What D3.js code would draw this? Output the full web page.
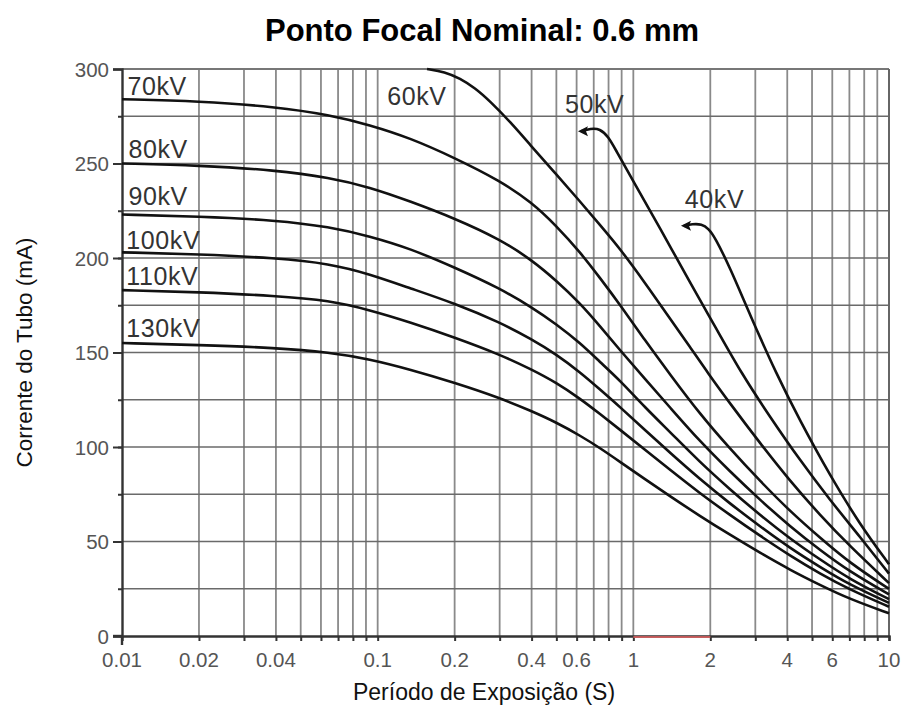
<!DOCTYPE html>
<html><head><meta charset="utf-8">
<script src="https://cdn.jsdelivr.net/npm/d3@7"></script>
<style>
body{margin:0;background:#fff}
svg{display:block}
text{font-family:"Liberation Sans",Arial,Helvetica,sans-serif}
</style></head>
<body><svg id="chart" width="907" height="724"></svg>
<script>
// ---------- data ----------
const title = "Ponto Focal Nominal: 0.6 mm";
const xTitle = "Período de Exposição (S)";
const yTitle = "Corrente do Tubo (mA)";

const xTickValues = [0.01, 0.02, 0.04, 0.1, 0.2, 0.4, 0.6, 1, 2, 4, 6, 10];
const xTickLabels = ["0.01", "0.02", "0.04", "0.1", "0.2", "0.4", "0.6", "1", "2", "4", "6", "10"];
const yTickValues = [0, 50, 100, 150, 200, 250, 300];

// exposure times (s) shared by the 70-130 kV curves
const timesHigh = [0.01, 0.02, 0.04, 0.065, 0.093, 0.134, 0.2, 0.3, 0.4, 0.5, 0.62, 0.74, 0.89, 1.11, 1.39, 1.82, 2.39, 3.13, 4.1, 5.37, 7.03, 10];
const kv70  = [284, 283, 280, 275.7, 270.4, 263.5, 253, 241, 229.5, 217, 203, 189.5, 175, 156.5, 138.5, 117.5, 99, 82, 66, 52, 38.6, 24.9];
const kv80  = [250, 249, 246.5, 242.5, 237.5, 230, 221, 210, 199, 188, 176, 164, 151, 136, 121, 103, 87, 72, 58, 45.5, 34, 22];
const kv90  = [223, 222, 220, 216.5, 211.5, 205, 195, 184, 174, 165, 155, 145, 135, 121, 108, 92, 77.5, 64, 51.5, 40.5, 30, 19.5];
const kv100 = [203, 202, 200, 197, 191.5, 184, 176, 166, 157, 149, 139.5, 130.5, 121, 109, 97, 83, 70, 58, 46.5, 36.5, 27, 17.5];
const kv110 = [183, 182, 180, 177.5, 172.5, 166, 158, 149, 141, 134, 125.5, 117.5, 109, 98.5, 88, 75.5, 64, 53, 42.5, 33, 24.5, 15.5];
const kv130 = [155, 154, 152.5, 150, 146.5, 141, 134, 126, 119, 113, 106, 99.5, 92, 83, 74, 63.5, 53.5, 44, 35, 27, 19.5, 12];

const times60 = [0.156, 0.183, 0.21, 0.24, 0.275, 0.33, 0.394, 0.494, 0.618, 0.74, 0.886, 1.11, 1.39, 1.665, 1.96, 2.39, 3.13, 4.1, 5.37, 7.03, 10];
const kv60    = [300, 298.5, 295, 290, 283, 272, 260, 245, 230, 217.5, 205, 187, 168, 153, 139, 123, 102, 82, 64, 47.5, 28];

const times50 = [0.624, 0.68, 0.74, 0.8, 0.847, 0.996, 1.271, 1.665, 2.085, 2.659, 3.422, 4.483, 5.873, 7.696, 10];
const kv50    = [267, 268.5, 268.5, 264, 258, 241, 216, 187, 164, 138.5, 116, 93, 72, 52.5, 33];

const times40 = [1.578, 1.7, 1.85, 1.97, 2.085, 2.387, 2.858, 3.645, 4.483, 5.873, 7.696, 10];
const kv40    = [217, 218, 218, 215.5, 211, 195, 170, 138, 114, 85, 59, 38];

// curve labels: name, label anchor (time s, current mA), arrow at start?
const curveNames = ["70kV", "80kV", "90kV", "100kV", "110kV", "130kV", "60kV", "50kV", "40kV"];
const labelTimes = [0.0105, 0.0106, 0.0106, 0.0104, 0.0104, 0.0104, 0.109, 0.54, 1.59];
const labelCurrents = [286, 253, 228, 205, 185.5, 158, 281, 276.5, 226.5];
const hasArrow = [false, false, false, false, false, false, false, true, true];

// ---------- chart ----------
const svg = d3.select("#chart");
const W = 907, H = 724;
const m = {left: 122, right: 18, top: 69, bottom: 88};
const x = d3.scaleLog().domain([0.01, 10]).range([m.left, W - m.right]);
const y = d3.scaleLinear().domain([0, 300]).range([H - m.bottom, m.top]);

svg.append("rect").attr("width", W).attr("height", H).attr("fill", "#fff");

// grid
const minorX = x.ticks().filter(v => v > 0.0100001 && v < 9.9999);
svg.append("g").selectAll("line").data(minorX).join("line")
  .attr("x1", d => x(d)).attr("x2", d => x(d))
  .attr("y1", y(300)).attr("y2", y(0))
  .attr("stroke", "#8a8a8a").attr("stroke-width", 1.8);

const gridY = d3.range(25, 300, 25);
svg.append("g").selectAll("line").data(gridY).join("line")
  .attr("x1", x(0.01)).attr("x2", x(10))
  .attr("y1", d => y(d)).attr("y2", d => y(d))
  .attr("stroke", "#6a6a6a").attr("stroke-width", 1.6);

// frame: top and right
svg.append("line").attr("x1", x(0.01)).attr("x2", x(10)).attr("y1", y(300)).attr("y2", y(300))
  .attr("stroke", "#777").attr("stroke-width", 2);
svg.append("line").attr("x1", x(10)).attr("x2", x(10)).attr("y1", y(300)).attr("y2", y(0))
  .attr("stroke", "#666").attr("stroke-width", 2);

// y axis
const yAxis = d3.axisLeft(y).tickValues(yTickValues).tickSize(9).tickPadding(4);
const gy = svg.append("g").attr("transform", `translate(${x(0.01)},0)`).call(yAxis);
gy.select(".domain").attr("stroke", "#333").attr("stroke-width", 2.4);
gy.selectAll(".tick line").attr("stroke", "#333").attr("stroke-width", 2);
gy.selectAll(".tick text").attr("font-size", 20.5).attr("fill", "#555").attr("dy", "0.36em");
const yMinor = d3.axisLeft(y).tickValues(gridY).tickSize(4).tickFormat("");
const gy2 = svg.append("g").attr("transform", `translate(${x(0.01)},0)`).call(yMinor);
gy2.select(".domain").remove();
gy2.selectAll(".tick line").attr("stroke", "#333").attr("stroke-width", 2);
svg.append("line").attr("x1", x(0.01)).attr("x2", x(0.01)).attr("y1", y(0)).attr("y2", y(0) + 9)
  .attr("stroke", "#333").attr("stroke-width", 2.4);

// x axis
const xAxis = d3.axisBottom(x).tickValues(minorX.concat([10])).tickSize(5).tickFormat("");
const gx = svg.append("g").attr("transform", `translate(0,${y(0)})`).call(xAxis);
gx.select(".domain").attr("stroke", "#333").attr("stroke-width", 2.4);
gx.selectAll(".tick line").attr("stroke", "#333").attr("stroke-width", 2);
svg.append("line").attr("x1", x(0.01) - 9).attr("x2", x(0.01)).attr("y1", y(0)).attr("y2", y(0))
  .attr("stroke", "#333").attr("stroke-width", 2.4);
// faint red mark on axis between 1 and 2 s
svg.append("line").attr("x1", x(1)).attr("x2", x(2)).attr("y1", y(0) + 1).attr("y2", y(0) + 1)
  .attr("stroke", "#e06060").attr("stroke-width", 2).attr("opacity", 0.8);

svg.append("g").selectAll("text").data(xTickValues).join("text")
  .attr("x", d => x(d)).attr("y", y(0) + 31)
  .attr("text-anchor", "middle").attr("font-size", 20.5).attr("fill", "#555")
  .text((d, i) => xTickLabels[i]);

// curves (smoothed B-spline through the read points)
const line = d3.line().x(d => x(d[0])).y(d => y(d[1])).curve(d3.curveBasis);
const seriesTimes = [timesHigh, timesHigh, timesHigh, timesHigh, timesHigh, timesHigh, times60, times50, times40];
const seriesValues = [kv70, kv80, kv90, kv100, kv110, kv130, kv60, kv50, kv40];
const curves = curveNames.map((n, i) => ({
  name: n,
  pts: seriesTimes[i].map((t, j) => [t, seriesValues[i][j]]),
  lx: labelTimes[i], ly: labelCurrents[i], arrow: hasArrow[i]
}));

svg.append("g").selectAll("path").data(curves).join("path")
  .attr("d", d => line(d.pts))
  .attr("fill", "none").attr("stroke", "#111").attr("stroke-width", 2.6);

// arrow heads (pointing left) at curve starts
svg.append("g").selectAll("path").data(curves.filter(c => c.arrow)).join("path")
  .attr("d", d => {
    const px = x(d.pts[0][0]), py = y(d.pts[0][1]);
    return `M${px - 3},${py} L${px + 7},${py - 5} L${px + 5},${py} L${px + 7},${py + 5} Z`;
  })
  .attr("fill", "#111");

// curve labels
svg.append("g").selectAll("text").data(curves).join("text")
  .attr("x", d => x(d.lx)).attr("y", d => y(d.ly))
  .attr("font-size", 25).attr("fill", "#333").attr("letter-spacing", 0.6)
  .text(d => d.name);

// titles
svg.append("text").attr("x", 482).attr("y", 41).attr("text-anchor", "middle")
  .attr("font-size", 31).attr("font-weight", "bold").attr("fill", "#000").text(title);
svg.append("text").attr("x", 484).attr("y", 700).attr("text-anchor", "middle")
  .attr("font-size", 23).attr("fill", "#111").text(xTitle);
svg.append("text").attr("transform", `translate(32,${(y(0) + y(300)) / 2}) rotate(-90)`)
  .attr("text-anchor", "middle").attr("font-size", 22.5).attr("fill", "#111").text(yTitle);
</script>
</body></html>
